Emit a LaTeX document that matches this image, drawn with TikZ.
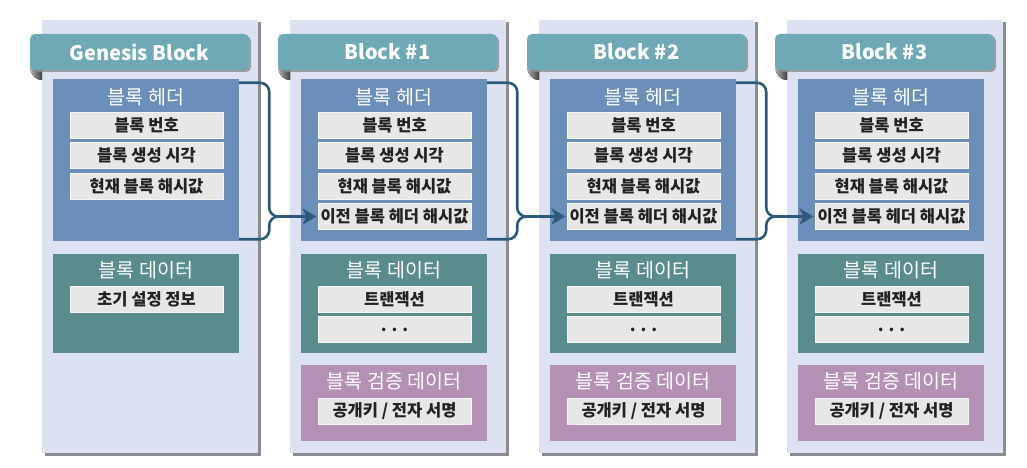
\documentclass[tikz,border=0pt]{standalone}
\usepackage{fontspec}
\setmainfont{Noto Sans CJK KR}
\usetikzlibrary{arrows.meta}
\usetikzlibrary{shadows}
\usetikzlibrary{calc}

\definecolor{panelc}{HTML}{DCE2F1}
\definecolor{shadc}{HTML}{8A8C90}
\definecolor{tabc}{HTML}{6FA9B6}
\definecolor{hdrc}{HTML}{6C8FB9}
\definecolor{datc}{HTML}{5B8C8D}
\definecolor{verc}{HTML}{B390B4}
\definecolor{itemc}{HTML}{E7E7E7}
\definecolor{itemt}{HTML}{222222}
\definecolor{linkc}{HTML}{2B5A7C}

\begin{document}
\begin{tikzpicture}[x=1pt,y=-1pt,
    panel/.style={fill=panelc, minimum width=216, minimum height=433, inner sep=0pt,
        drop shadow={shadow xshift=2.5pt, shadow yshift=-2.5pt, fill=shadc, opacity=1}},
    tab/.style={fill=tabc, rounded corners=5pt, minimum width=219, minimum height=36, inner sep=0pt,
        text=white, font=\fontsize{20}{24}\selectfont\bfseries,
        drop shadow={shadow xshift=2pt, shadow yshift=-2pt, fill=shadc, opacity=.8}},
    fold/.style={left color=gray!60, right color=black!75},
    hdr/.style={fill=hdrc, minimum width=186, minimum height=162, inner sep=0pt},
    dat/.style={fill=datc, minimum width=186, minimum height=99, inner sep=0pt},
    ver/.style={fill=verc, minimum width=186, minimum height=76, inner sep=0pt},
    ttl/.style={text=white, font=\fontsize{19.5}{22}\selectfont},
    item/.style={fill=itemc, draw=white!60!itemc, line width=0.8pt, minimum width=153,
        minimum height=26, inner sep=0pt, text=itemt, font=\fontsize{16.5}{18}\selectfont\bfseries},
    link/.style={draw=linkc, line width=2.6pt, rounded corners=9pt},
]
\useasboundingbox (0,0) rectangle (1027,468);

% Genesis block: no previous hash, no signature
\begin{scope}[xshift=42pt]
    \node[panel] (bg0) at (108,236.5) {};
    \fill[fold] (-12,64) .. controls (-12,76) and (-6,80) .. (0,80) -- (0,64) -- cycle;
    \node[tab] (t0) at (97.5,52) {Genesis Block};
    \node[hdr] (h0) at (104,160) {};
    \node[ttl] (ht0) at (104,97) {블록 헤더};
    \node[item] (n0) at (104.5,125) {블록 번호};
    \node[item] (c0) at (104.5,155.5) {블록 생성 시각};
    \node[item] (r0) at (104.5,186) {현재 블록 해시값};
    \node[dat] (d0) at (104,303.5) {};
    \node[ttl] (dt0) at (104,270) {블록 데이터};
    \node[item] (x0) at (104.5,299.5) {초기 설정 정보};
\end{scope}

% Blocks #1 .. #3
\foreach \i/\L in {1/290,2/539,3/787} {
\begin{scope}[xshift=\L pt]
    \node[panel] (bg\i) at (108,236.5) {};
    \fill[fold] (-12,64) .. controls (-12,76) and (-6,80) .. (0,80) -- (0,64) -- cycle;
    \node[tab] (t\i) at (97.5,52) {Block \#\i};
    % header
    \node[hdr] (h\i) at (104,160) {};
    \node[ttl] (ht\i) at (104,97) {블록 헤더};
    \node[item] (n\i) at (104.5,125) {블록 번호};
    \node[item] (c\i) at (104.5,155.5) {블록 생성 시각};
    \node[item] (r\i) at (104.5,186) {현재 블록 해시값};
    \node[item] (p\i) at (104.5,216.5) {이전 블록 헤더 해시값};
    % data
    \node[dat] (d\i) at (104,303.5) {};
    \node[ttl] (dt\i) at (104,270) {블록 데이터};
    \node[item] (x\i) at (104.5,299.5) {트랜잭션};
    \node[item] (e\i) at (104.5,329.5) {. . .};
    % verification
    \node[ver] (v\i) at (104,403) {};
    \node[ttl] (vt\i) at (104,381) {블록 검증 데이터};
    \node[item] (s\i) at (104.5,411) {공개키 / 전자 서명};
\end{scope}
}

% Header -> previous hash of the next block
\foreach \i/\j in {0/1,1/2,2/3} {
    \path ([xshift=30pt]h\i.east) coordinate (k\i);
    \coordinate (j\i) at (k\i |- p\j.west);
    \draw[link] ([yshift=2pt]h\i.south east) -| (j\i) -- ([xshift=-14pt]p\j.west);
    \draw[link,-{Stealth[length=14pt,width=16pt,inset=4pt]}] ([yshift=-4pt]h\i.north east) -| (j\i) -- ([xshift=-1pt]p\j.west);
}
\end{tikzpicture}
\end{document}
